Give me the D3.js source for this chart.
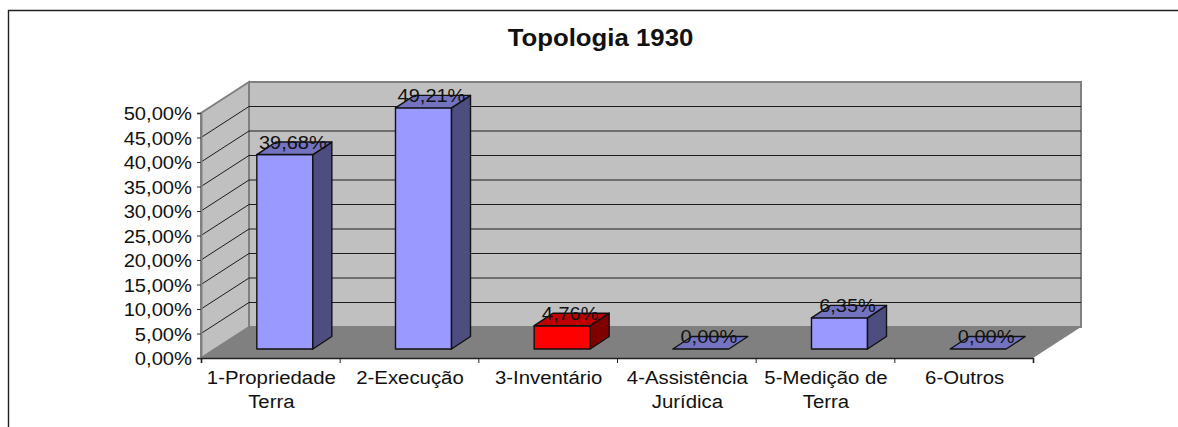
<!DOCTYPE html>
<html>
<head>
<meta charset="utf-8">
<title>Topologia 1930</title>
<script src="https://cdn.jsdelivr.net/npm/d3@7"></script>
<style>
  html, body { margin: 0; padding: 0; background: #fff; overflow: hidden; }
  svg { display: block; }
  text { font-family: "Liberation Sans", Arial, sans-serif; fill: #111; }
</style>
</head>
<body>
<svg id="chart" width="1178" height="427"></svg>
<script>
const chartTitle = "Topologia 1930";
const categories = ["1-Propriedade Terra", "2-Execução", "3-Inventário", "4-Assistência Jurídica", "5-Medição de Terra", "6-Outros"];
const categoryLines = [["1-Propriedade", "Terra"], ["2-Execução"], ["3-Inventário"], ["4-Assistência", "Jurídica"], ["5-Medição de", "Terra"], ["6-Outros"]];
const values = [39.68, 49.21, 4.76, 0, 6.35, 0];
const valueLabels = ["39,68%", "49,21%", "4,76%", "0,00%", "6,35%", "0,00%"];
const barFronts = ["#9999ff", "#9999ff", "#ff0000", "#9999ff", "#9999ff", "#9999ff"];
const barTops = ["#7373bf", "#7373bf", "#bf0000", "#7373bf", "#7373bf", "#7373bf"];
const barSides = ["#4d4d80", "#4d4d80", "#800000", "#4d4d80", "#4d4d80", "#4d4d80"];
const yTicks = [0, 5, 10, 15, 20, 25, 30, 35, 40, 45, 50];

(() => {
  const svg = d3.select("#chart");

  // box of the 3d plot
  const plotLeft = 201, plotRight = 1033, plotBottom = 358, plotTop = 113;
  const depthX = 48, depthY = -31;
  const barDepthX = 19, barDepthY = -12.5;
  const barShiftX = 14.5, barShiftY = -9;

  const x = d3.scaleBand().domain(categories).range([plotLeft, plotRight]).paddingInner(0.596).paddingOuter(0.298);
  const y = d3.scaleLinear().domain([0, 50]).range([plotBottom, plotTop]);

  const line = d3.line();

  // text in the picture is a bit wider than the font, so stretch it
  function stretch(sel, k) {
    sel.each(function () {
      const w = this.getComputedTextLength();
      d3.select(this).attr("textLength", w * k).attr("lengthAdjust", "spacingAndGlyphs");
    });
  }

  // outer frame, only top and left are visible
  svg.append("path")
    .attr("d", line([[8.5, 427], [8.5, 10.5], [1178, 10.5]]))
    .attr("fill", "none").attr("stroke", "#222").attr("stroke-width", 1.4);

  svg.append("text")
    .attr("x", 600.5).attr("y", 46)
    .attr("text-anchor", "middle")
    .attr("font-size", 23).attr("font-weight", "bold")
    .text(chartTitle)
    .call(stretch, 1.12);

  // walls
  svg.append("path")
    .attr("d", line([[plotLeft, y(0)], [plotLeft + depthX, y(0) + depthY], [plotLeft + depthX, y(50) + depthY], [plotLeft, y(50)]]) + "Z")
    .attr("fill", "#c0c0c0").attr("stroke", "#808080").attr("stroke-width", 2);
  svg.append("rect")
    .attr("x", plotLeft + depthX).attr("y", y(50) + depthY)
    .attr("width", plotRight - plotLeft).attr("height", y(0) - y(50))
    .attr("fill", "#c0c0c0").attr("stroke", "#808080").attr("stroke-width", 2);

  // gridlines, skip 0 and 50 which are the wall edges
  svg.append("g").selectAll("path")
    .data(yTicks.filter(d => d > 0 && d < 50))
    .join("path")
    .attr("d", d => line([[plotLeft, y(d)], [plotLeft + depthX, y(d) + depthY], [plotRight + depthX, y(d) + depthY]]))
    .attr("fill", "none").attr("stroke", "#1c1c1c").attr("stroke-width", 1);

  // floor
  svg.append("path")
    .attr("d", line([[plotLeft, y(0)], [plotLeft + depthX, y(0) + depthY], [plotRight + depthX, y(0) + depthY], [plotRight, y(0)]]) + "Z")
    .attr("fill", "#808080");

  // axes
  const yAxis = d3.axisLeft(y).tickValues(yTicks).tickSize(4).tickPadding(5)
    .tickFormat(d => d3.format(".2f")(d).replace(".", ",") + "%");
  const gy = svg.append("g").attr("transform", `translate(${plotLeft},0)`).call(yAxis);
  gy.attr("font-family", null).attr("font-size", null);
  gy.select(".domain").attr("stroke", "#808080").attr("stroke-width", 2);
  gy.selectAll(".tick line").attr("stroke", "#333");
  gy.selectAll("text").attr("font-size", 18).attr("fill", "#111").attr("dy", "0.37em")
    .call(stretch, 1.12);

  const xAxis = d3.axisBottom(d3.scaleLinear().domain([0, categories.length]).range([plotLeft, plotRight]))
    .tickValues(d3.range(0, categories.length + 1)).tickSize(5).tickFormat("");
  const gx = svg.append("g").attr("transform", `translate(0,${plotBottom})`).call(xAxis);
  gx.select(".domain").attr("stroke", "#222").attr("stroke-width", 1.6);
  gx.selectAll(".tick line").attr("stroke", "#222");

  const labels = svg.append("g").selectAll("text")
    .data(categories)
    .join("text")
    .attr("text-anchor", "middle")
    .attr("font-size", 18)
    .attr("y", 384);
  labels.selectAll("tspan")
    .data((d, i) => categoryLines[i].map(t => ({ t, c: d })))
    .join("tspan")
    .attr("x", d => x(d.c) + x.bandwidth() / 2 + 1)
    .attr("dy", (d, i) => (i ? 24 : 0))
    .text(d => d.t)
    .call(stretch, 1.13);

  // bars
  const barData = categories.map((c, i) => ({ c, i, v: values[i] }));
  const bars = svg.append("g").selectAll("g")
    .data(barData)
    .join("g");

  const bx = d => x(d.c) + barShiftX;
  const bw = x.bandwidth();
  const by = d => y(d.v) + barShiftY;
  const by0 = y(0) + barShiftY;

  bars.filter(d => d.v > 0).append("rect")
    .attr("x", bx).attr("y", by)
    .attr("width", bw).attr("height", d => by0 - by(d))
    .attr("fill", d => barFronts[d.i]);
  bars.filter(d => d.v > 0).append("path")
    .attr("d", d => line([[bx(d) + bw, by(d)], [bx(d) + bw + barDepthX, by(d) + barDepthY], [bx(d) + bw + barDepthX, by0 + barDepthY], [bx(d) + bw, by0]]) + "Z")
    .attr("fill", d => barSides[d.i]);
  bars.append("path")
    .attr("d", d => line([[bx(d), by(d)], [bx(d) + barDepthX, by(d) + barDepthY], [bx(d) + bw + barDepthX, by(d) + barDepthY], [bx(d) + bw, by(d)]]) + "Z")
    .attr("fill", d => barTops[d.i]);
  bars.selectAll("rect, path")
    .attr("stroke", "#111").attr("stroke-width", 1.4).attr("stroke-linejoin", "round");

  // value labels go over the bars
  svg.append("g").selectAll("text")
    .data(barData)
    .join("text")
    .attr("x", d => bx(d) + bw / 2 + 8)
    .attr("y", d => by(d) - 6)
    .attr("text-anchor", "middle")
    .attr("font-size", 18)
    .attr("fill", "#222")
    .text(d => valueLabels[d.i])
    .call(stretch, 1.11);
})();
</script>
</body>
</html>
